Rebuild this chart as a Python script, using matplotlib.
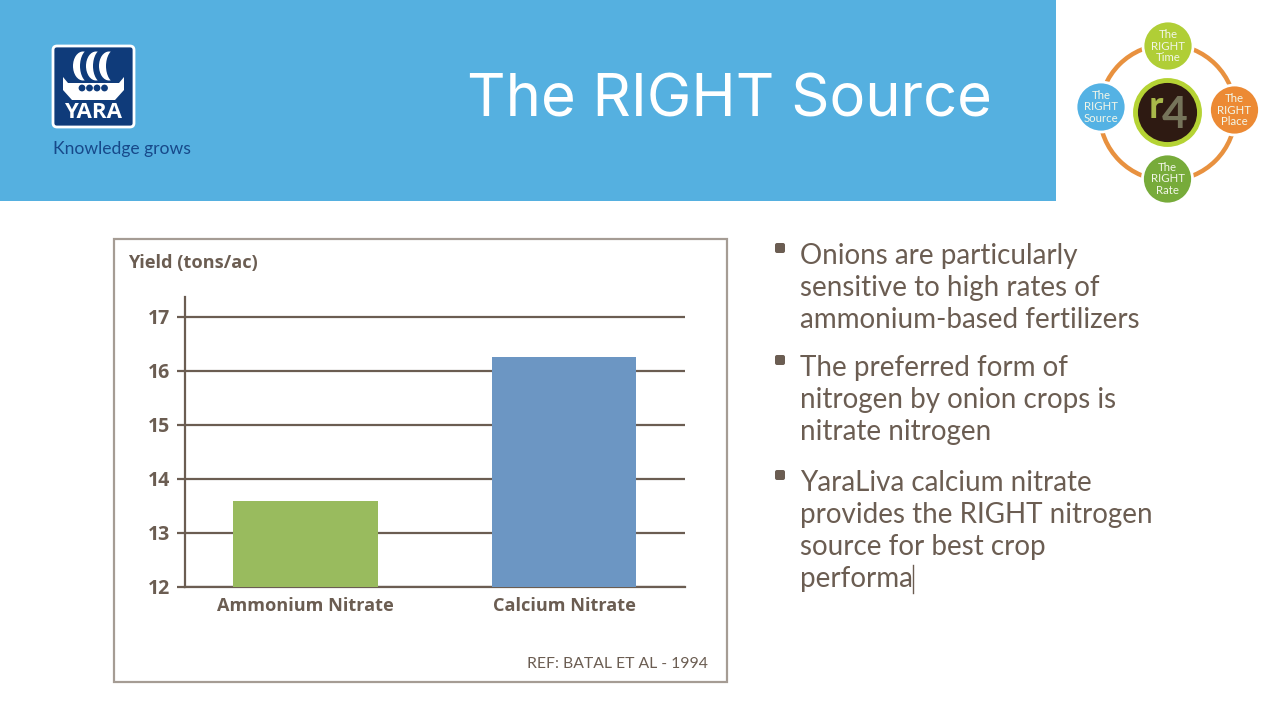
import matplotlib
matplotlib.use("Agg")
import matplotlib.pyplot as plt
from matplotlib.patches import Circle, Rectangle, FancyBboxPatch, Polygon, Ellipse

categories = ["Ammonium Nitrate", "Calcium Nitrate"]
yield_values = [13.6, 16.25]
bar_colors = ["#99BB5E", "#6C96C3"]
y_ticks = [12, 13, 14, 15, 16, 17]

bullets = [
    ["Onions are particularly", "sensitive to high rates of", "ammonium-based fertilizers"],
    ["The preferred form of", "nitrogen by onion crops is", "nitrate nitrogen"],
    ["YaraLiva calcium nitrate", "provides the RIGHT nitrogen", "source for best crop", "performa"],
]
bullet_tops = [255, 367, 482]

BROWN = "#6B5D52"
NAVY = "#0F3B7A"
plt.rcParams["font.family"] = ["Lato", "DejaVu Sans"]

fig = plt.figure(figsize=(12.8, 7.2), dpi=100, facecolor="white")

# page layer in pixel coordinates
page = fig.add_axes([0, 0, 1, 1])
page.set_xlim(0, 1280)
page.set_ylim(720, 0)
page.axis("off")

page.add_patch(Rectangle((0, 0), 1056, 201, color="#55B0E0", lw=0))
page.text(729.5, 101, "The RIGHT Source", color="white", fontsize=43, ha="center", va="center",
          family="Inter")

# yara logo
page.add_patch(FancyBboxPatch((53, 46), 81, 81, boxstyle="round,pad=0,rounding_size=4",
                              fc=NAVY, ec="white", lw=2))
for sx in [83, 96, 109]:
    page.add_patch(Ellipse((sx, 66), 20, 29, fc="white", lw=0))
    page.add_patch(Ellipse((sx + 7, 66), 20, 34, fc=NAVY, lw=0))
page.add_patch(Polygon([(63, 77), (68, 83), (119, 83), (124, 77), (124, 90), (115, 100),
                        (72, 100), (63, 90)], fc="white", lw=0))
for hx in [82, 89.5, 97, 104.5]:
    page.add_patch(Circle((hx, 88), 3.4, fc=NAVY, lw=0))
page.text(93.5, 112, "YARA", color="white", fontsize=16, fontweight="bold", ha="center", va="center",
          family="Open Sans")
page.text(53, 149, "Knowledge grows", color="#17498A", fontsize=12.6, ha="left", va="center")

# right 4 ring
cx, cy = 1167.5, 112.5
page.add_patch(Circle((cx, cy), 68, fc="none", ec="#E8913F", lw=3.2))
page.add_patch(Circle((cx, cy), 32, fc="#2E1A12", ec="#B5D334", lw=3.5))
page.text(cx - 12, cy - 6, "r", color="#A9B94A", fontsize=28, fontweight="bold", ha="center", va="center")
page.text(cx + 7, cy + 3, "4", color="#76745A", fontsize=32, fontweight="bold", ha="center", va="center")
rings = [(1168, 46, "#B0CE36", "Time"), (1234.5, 110, "#EC8A34", "Place"),
         (1167.5, 179, "#77AB3A", "Rate"), (1101, 107, "#54B2E4", "Source")]
for rx, ry, rc, word in rings:
    page.add_patch(Circle((rx, ry), 25, fc=rc, ec="white", lw=2, zorder=3))
    page.text(rx, ry, "The\nRIGHT\n" + word, color="#F2F6E8", fontsize=8.2, ha="center", va="center",
              linespacing=1.05, zorder=4)

# chart frame
page.add_patch(Rectangle((114, 239), 613, 443, fc="white", ec="#A59C94", lw=1.6))
page.text(128, 263, "Yield (tons/ac)", color=BROWN, fontsize=13.1, fontweight="bold", ha="left", va="center",
          family="Open Sans")
page.text(708, 664, "REF: BATAL ET AL - 1994", color=BROWN, fontsize=11.3, ha="right", va="center")

# bullets
for top, lines in zip(bullet_tops, bullets):
    page.add_patch(FancyBboxPatch((775, top - 12), 10, 10, boxstyle="round,pad=0,rounding_size=2",
                                  fc=BROWN, lw=0))
    for i, line in enumerate(lines):
        page.text(800, top + 1 + i * 32, line, color=BROWN, fontsize=20, ha="left", va="center")
page.plot([913, 913], [565, 593], color=BROWN, lw=1)

# bar chart
ax = fig.add_axes([185 / 1280, 1 - 587 / 720, 500 / 1280, 290 / 720])
ax.patch.set_alpha(0)
ax.set_xlim(-0.466, 1.468)
ax.set_ylim(12, 17.37)
ax.bar(range(len(categories)), yield_values, width=0.56, color=bar_colors, zorder=3)
ax.set_yticks(y_ticks)
ax.set_xticks(range(len(categories)))
ax.set_xticklabels(categories, fontsize=13.1, fontweight="bold", color=BROWN, family="Open Sans")
ax.set_yticklabels(y_ticks, fontsize=14, fontweight="bold", color=BROWN, family="Open Sans")
ax.grid(axis="y", color=BROWN, lw=1.6, zorder=1)
ax.set_axisbelow(True)
ax.tick_params(axis="y", length=5.8, width=1.6, color=BROWN, pad=5)
ax.tick_params(axis="x", length=0, pad=7)
for side in ["top", "right"]:
    ax.spines[side].set_visible(False)
for side in ["left", "bottom"]:
    ax.spines[side].set_color(BROWN)
    ax.spines[side].set_linewidth(1.6)

fig.savefig("out.png", dpi=100)
